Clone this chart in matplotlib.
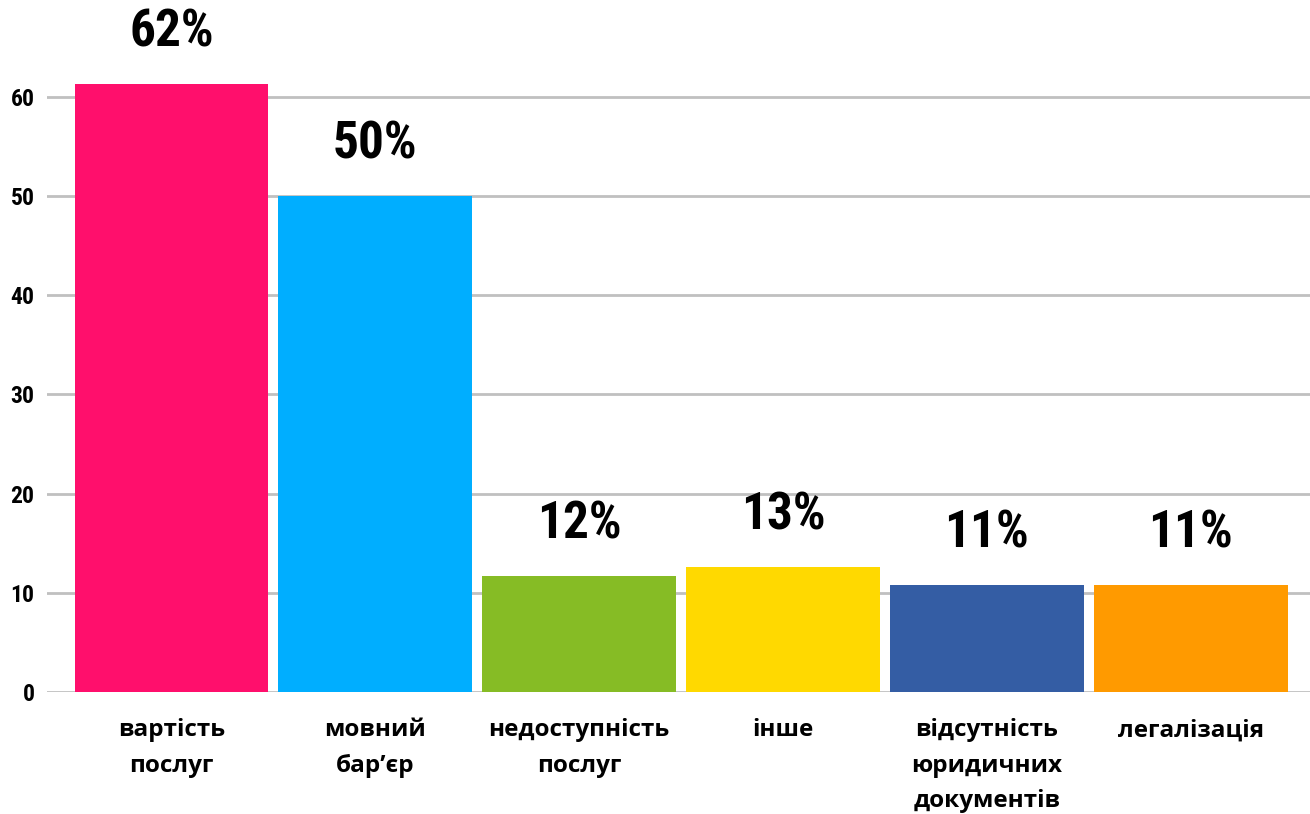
import matplotlib
matplotlib.use("Agg")
import matplotlib.pyplot as plt
from matplotlib import font_manager

categories = ["вартість\nпослуг", "мовний\nбар’єр", "недоступність\nпослуг", "інше",
              "відсутність\nюридичних\nдокументів", "легалізація"]
values = [61.3, 50.0, 11.7, 12.6, 10.8, 10.8]
value_labels = ["62%", "50%", "12%", "13%", "11%", "11%"]
yticks = [0, 10, 20, 30, 40, 50, 60]
colors = ["#FF0F6C", "#00AEFF", "#86BC25", "#FFD900", "#345DA4", "#FF9A00"]

names = {f.name for f in font_manager.fontManager.ttflist}
cond = "DejaVu Sans"
for cand in ["Roboto Condensed", "Liberation Sans Narrow", "Roboto"]:
    if cand in names:
        cond = cand
        break

W, H = 1310, 814
fig = plt.figure(figsize=(W / 100, H / 100), dpi=100)
ax = fig.add_axes([47 / W, (H - 692) / H, (W - 47) / W, 692 / H])

x = list(range(len(categories)))
ax.bar(x, values, width=0.95, color=colors, zorder=2)
ax.set_xlim(-0.61, 5.585)
ax.set_ylim(0, 692 / 9.917)

ax.set_yticks(yticks)
ax.set_yticklabels([str(t) for t in yticks], fontfamily=cond, fontweight="bold", fontsize=17)
ax.tick_params(axis="y", length=0, pad=9)
ax.yaxis.grid(True, color="#c0c0c0", linewidth=2, zorder=0)
ax.set_axisbelow(True)
for s in ax.spines.values():
    s.set_visible(False)

ax.set_xticks(x)
ax.set_xticklabels(categories, fontfamily="Open Sans", fontweight="bold", fontsize=17.5,
                   linespacing=1.62, va="top")
ax.tick_params(axis="x", length=0, pad=19)

for xi, v, lab in zip(x, values, value_labels):
    ax.annotate(lab, (xi, v), xytext=(0, 37), textcoords="offset points",
                ha="center", va="center", fontfamily=cond, fontweight="bold",
                fontsize=37, color="black")

fig.savefig("out.png", dpi=100)
